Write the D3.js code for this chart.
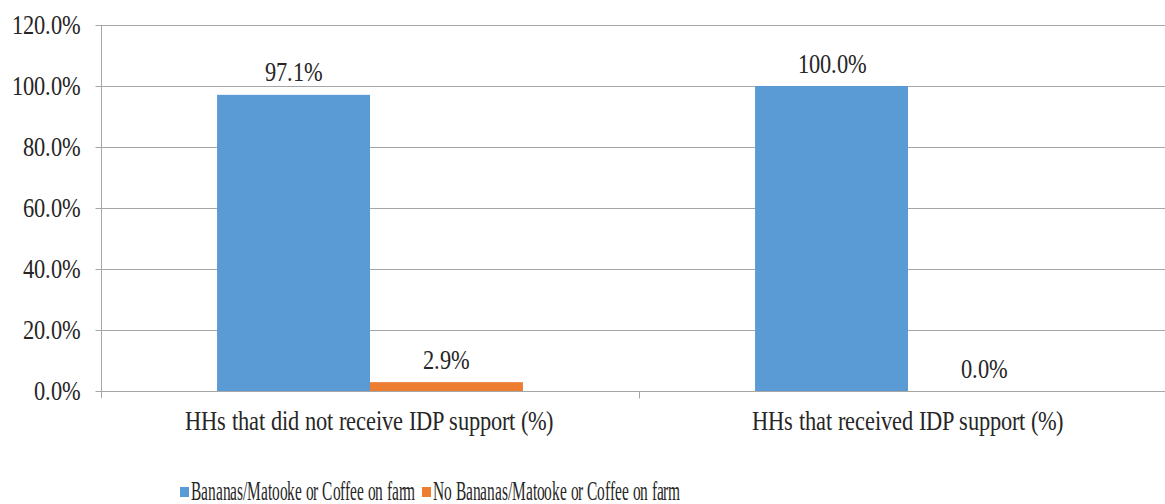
<!DOCTYPE html>
<html>
<head>
<meta charset="utf-8">
<script src="https://cdn.jsdelivr.net/npm/d3@7"></script>
<style>
  @font-face {
    font-family: "ChartSerif";
    src: local("Liberation Serif"), local("LiberationSerif"), local("LiberationSerif-Regular"),
         local("Tinos"), local("Times New Roman"), local("DejaVu Serif"), local("DejaVuSerif");
  }
  html, body { margin: 0; padding: 0; background: #fff; }
  #wrap { position: relative; width: 1165px; height: 504px; overflow: hidden; }
  #wrap svg { position: absolute; left: 0; top: 0; display: block; }
</style>
</head>
<body>
<div id="wrap"><svg id="chart" width="1165" height="504"></svg></div>
<script>
// Household groups on the x axis
const categories = [
  "HHs that did not receive IDP support (%)",
  "HHs that received IDP support (%)"
];
// Series names (legend order)
const seriesNames = [
  "Bananas/Matooke or Coffee on farm",
  "No Bananas/Matooke or Coffee on farm"
];
// Percent values per series, one per category
const bananasCoffee = [97.1, 100.0];
const noBananasCoffee = [2.9, 0.0];
// Y axis tick values (percent)
const yTicks = [0, 20, 40, 60, 80, 100, 120];

const colors = ["#5B9BD5", "#ED7D31"];
const seriesValues = [bananasCoffee, noBananasCoffee];
const GRID = "#a6a6a6";
const STRETCH = 1.25; // text is drawn taller than wide
const BASE_STYLE = "position:absolute;white-space:nowrap;line-height:1;color:#262626;" +
  "font:22px ChartSerif, 'Liberation Serif', Tinos, 'Times New Roman', 'DejaVu Serif', serif;";

const wrap = d3.select("#wrap");
const svg = d3.select("#chart");
const plotLeft = 101, plotRight = 1177, plotTop = 25, plotBottom = 391;

const x = d3.scaleBand().domain(categories).range([plotLeft, plotRight]).paddingInner(0).paddingOuter(0);
const bandPad = 0.2157; // fraction of each band left empty on either side
const xInner = d3.scaleBand().domain(seriesNames)
  .range([x.bandwidth() * bandPad, x.bandwidth() * (1 - bandPad)]);
const y = d3.scaleLinear().domain([0, 120]).range([plotBottom, plotTop]);
const fmt = d => d3.format(".1f")(d) + "%";

// Text label placed in an HTML layer; anchor: "middle" | "end" | "start"
function label(text, px, py, anchor, scaleX) {
  const tx = anchor === "middle" ? "-50%" : anchor === "end" ? "-100%" : "0";
  const ox = anchor === "middle" ? "50%" : anchor === "end" ? "100%" : "0";
  const el = wrap.append("div").attr("class", "lbl").text(text);
  const place = sx => el.attr("style", BASE_STYLE +
    `left:${px}px;top:${py}px;transform-origin:${ox} 50%;` +
    `transform:translate(${tx}, -50%) scale(${sx}, ${STRETCH});`);
  place(scaleX || 1);
  el.place = place;
  return el;
}

// Horizontal gridlines
svg.append("g")
  .selectAll("line")
  .data(yTicks.filter(d => d > 0))
  .join("line")
  .attr("x1", plotLeft).attr("x2", plotRight)
  .attr("y1", d => y(d) + 0.5).attr("y2", d => y(d) + 0.5)
  .attr("stroke", GRID).attr("stroke-width", 1);

// Y axis (line and ticks), labels in the HTML layer
const yAxis = svg.append("g")
  .attr("transform", `translate(${plotLeft + 0.5},0)`)
  .call(d3.axisLeft(y).tickValues(yTicks).tickSize(6).tickFormat(""));
yAxis.select(".domain").attr("stroke", GRID).attr("d", `M0,${plotTop}V${plotBottom + 7}`);
yAxis.selectAll(".tick line").attr("stroke", GRID);
yTicks.forEach(t => label(fmt(t), 80, y(t), "end"));

// Bars
const groups = svg.append("g")
  .selectAll("g")
  .data(categories)
  .join("g")
  .attr("transform", d => `translate(${x(d)},0)`);

groups.selectAll("rect")
  .data((c, i) => seriesNames.map((s, j) => ({ s, j, v: seriesValues[j][i] })))
  .join("rect")
  .attr("x", d => xInner(d.s))
  .attr("width", xInner.bandwidth())
  .attr("y", d => y(d.v))
  .attr("height", d => plotBottom - y(d.v))
  .attr("fill", d => colors[d.j]);

// Value labels above bars
categories.forEach((c, i) => {
  seriesNames.forEach((s, j) => {
    const v = seriesValues[j][i];
    label(fmt(v), x(c) + xInner(s) + xInner.bandwidth() / 2, y(v) - 22.5, "middle");
  });
});

// X axis
const xAxis = svg.append("g")
  .attr("transform", `translate(0,${plotBottom + 0.5})`);
xAxis.append("line").attr("x1", plotLeft).attr("x2", plotRight).attr("stroke", GRID);
xAxis.selectAll("line.tick")
  .data([plotRight].concat(categories.slice(1).map(c => x(c))))
  .join("line").attr("class", "tick")
  .attr("x1", d => d + 0.5).attr("x2", d => d + 0.5)
  .attr("y1", 0).attr("y2", 7).attr("stroke", GRID);
categories.forEach(c => label(c, x(c) + x.bandwidth() * 0.5 - 1, 420.5, "middle"));

// Legend (swatch + condensed text)
const legendY = 491;
const legendItems = [
  { swatchX: 180, textX: 191, width: 224 },
  { swatchX: 422, textX: 433, width: 247 }
];
const legendLabels = seriesNames.map((s, i) => {
  const it = legendItems[i];
  svg.append("rect").attr("x", it.swatchX).attr("y", legendY - 4)
    .attr("width", 9).attr("height", 10).attr("fill", colors[i]);
  return { el: label(s, it.textX, legendY, "start"), it };
});
function fitLegend() {
  legendLabels.forEach(({ el, it }) => el.place(it.width / el.node().offsetWidth));
}
fitLegend();
if (document.fonts && document.fonts.ready) document.fonts.ready.then(fitLegend);
</script>
</body>
</html>
